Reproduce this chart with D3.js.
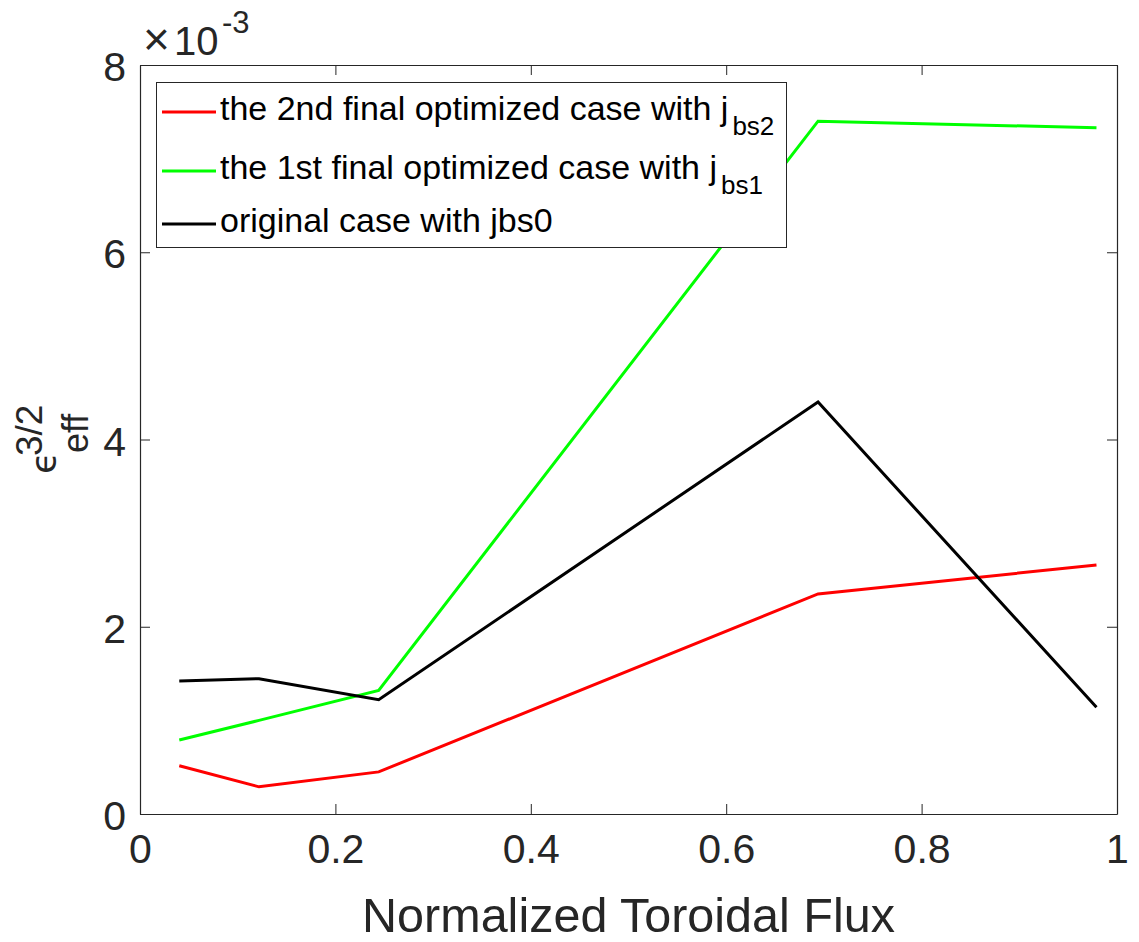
<!DOCTYPE html>
<html>
<head>
<meta charset="utf-8">
<script src="https://cdn.jsdelivr.net/npm/d3@7"></script>
<style>
  html, body { margin: 0; padding: 0; background: #ffffff; }
  svg { display: block; font-family: "Liberation Sans", Arial, Helvetica, sans-serif; }
</style>
</head>
<body>
<svg id="chart" width="1139" height="942"></svg>
<script>
// ---- data (y values in units of 1e-3) ----
const xFlux = [0.0402, 0.1218, 0.2443, 0.694, 0.979];
const red2nd = [0.516, 0.29, 0.45, 2.35, 2.66];
const green1st = [0.79, 1.00, 1.32, 7.40, 7.33];
const blackOrig = [1.42, 1.445, 1.22, 4.40, 1.14];
const xTicks = [0, 0.2, 0.4, 0.6, 0.8, 1];
const xTickLabels = ["0", "0.2", "0.4", "0.6", "0.8", "1"];
const yTicks = [0, 2, 4, 6, 8];
const yTickLabels = ["0", "2", "4", "6", "8"];
const legendMain = ["the 2nd final optimized case with j", "the 1st final optimized case with j", "original case with jbs0"];
const legendSub = ["bs2", "bs1", ""];
const seriesColors = ["#ff0000", "#00ff00", "#000000"];

const series = [red2nd, green1st, blackOrig];

const svg = d3.select("#chart");
const L = 140, R = 1117, T = 65, B = 814;
const axisColor = "#262626";

const x = d3.scaleLinear().domain([0, 1]).range([L, R]);
const y = d3.scaleLinear().domain([0, 8]).range([B, T]);

// data lines
const line = d3.line().x(d => x(d[0])).y(d => y(d[1]));
series.forEach((s, i) => {
  svg.append("path")
    .datum(xFlux.map((xv, j) => [xv, s[j]]))
    .attr("fill", "none")
    .attr("stroke", seriesColors[i])
    .attr("stroke-width", 3)
    .attr("stroke-linejoin", "miter")
    .attr("d", line);
});

// axes (MATLAB style box, inward ticks)
const tickLen = 10;
const bottomAxis = svg.append("g").attr("transform", `translate(0,${B})`)
  .call(d3.axisBottom(x).tickValues(xTicks).tickSize(-tickLen).tickSizeOuter(0)
    .tickFormat((d, i) => xTickLabels[i]).tickPadding(20));
const topAxis = svg.append("g").attr("transform", `translate(0,${T})`)
  .call(d3.axisTop(x).tickValues(xTicks).tickSize(-tickLen).tickSizeOuter(0).tickFormat(""));
const leftAxis = svg.append("g").attr("transform", `translate(${L},0)`)
  .call(d3.axisLeft(y).tickValues(yTicks).tickSize(-tickLen).tickSizeOuter(0)
    .tickFormat((d, i) => yTickLabels[i]).tickPadding(14));
const rightAxis = svg.append("g").attr("transform", `translate(${R},0)`)
  .call(d3.axisRight(y).tickValues(yTicks).tickSize(-tickLen).tickSizeOuter(0).tickFormat(""));

[bottomAxis, topAxis, leftAxis, rightAxis].forEach(g => {
  g.select(".domain").attr("stroke", axisColor).attr("stroke-width", 1.2);
  g.selectAll(".tick line").attr("stroke", axisColor).attr("stroke-width", 1);
  g.selectAll(".tick text").attr("fill", axisColor).attr("font-size", 41)
    .attr("font-family", "'Liberation Sans', Arial, sans-serif");
});
bottomAxis.selectAll(".tick text").attr("dy", "0.71em");
leftAxis.selectAll(".tick text").attr("dy", "0.38em");

// exponent label
svg.append("text").attr("x", 143).attr("y", 55)
  .attr("fill", axisColor).attr("font-size", 46).text("×");
svg.append("text").attr("x", 174).attr("y", 55)
  .attr("fill", axisColor).attr("font-size", 40).text("10");
svg.append("text").attr("x", 222).attr("y", 33)
  .attr("fill", axisColor).attr("font-size", 31).text("-3");

// x label
svg.append("text").attr("x", (L + R) / 2).attr("y", 932)
  .attr("text-anchor", "middle").attr("fill", axisColor).attr("font-size", 48.5)
  .text("Normalized Toroidal Flux");

// y label: epsilon_eff^{3/2}
svg.append("text").attr("transform", "translate(56,474) rotate(-90)")
  .attr("fill", axisColor).attr("font-size", 36)
  .attr("font-family", "'DejaVu Sans', sans-serif").text("ϵ");
svg.append("text").attr("transform", "translate(88,453) rotate(-90)")
  .attr("fill", axisColor).attr("font-size", 36).text("eff");
svg.append("text").attr("transform", "translate(42,456) rotate(-90)")
  .attr("fill", axisColor).attr("font-size", 37).text("3/2");

// legend
const legend = svg.append("g");
legend.append("rect").attr("x", 156.5).attr("y", 82.5).attr("width", 630).attr("height", 165)
  .attr("fill", "#ffffff").attr("stroke", axisColor).attr("stroke-width", 1);
const legendY = [112, 171, 224];
legendMain.forEach((txt, i) => {
  legend.append("line").attr("x1", 162).attr("x2", 216)
    .attr("y1", legendY[i]).attr("y2", legendY[i])
    .attr("stroke", seriesColors[i]).attr("stroke-width", 3);
  const t = legend.append("text").attr("x", 220).attr("y", legendY[i] + 8)
    .attr("fill", "#000000").attr("font-size", 34);
  t.append("tspan").text(txt);
  if (legendSub[i]) {
    t.append("tspan").attr("font-size", 26).attr("dy", 15).attr("dx", 4).text(legendSub[i]);
  }
});
</script>
</body>
</html>
